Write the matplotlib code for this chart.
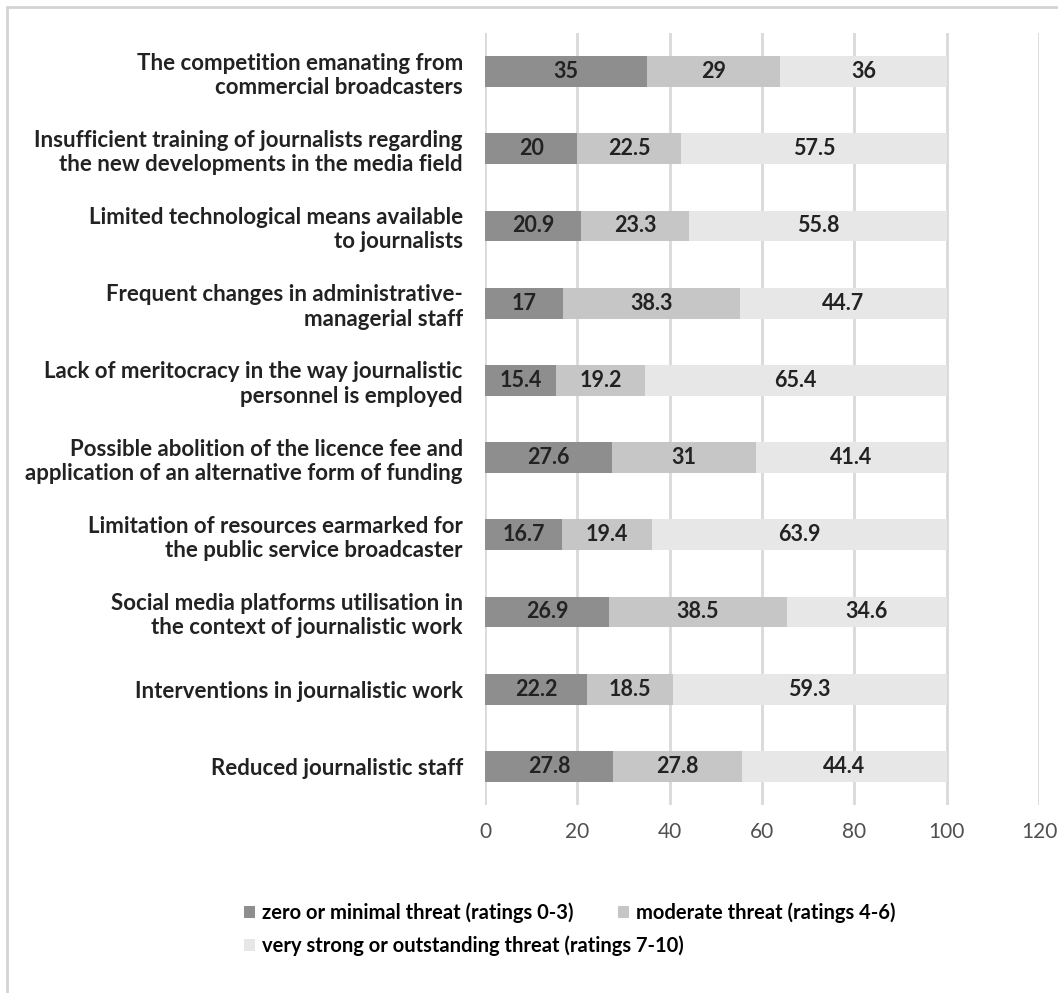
import matplotlib
matplotlib.use("Agg")
import matplotlib.pyplot as plt
from matplotlib.patches import Rectangle
import numpy as np

plt.rcParams["font.family"] = ["Lato", "DejaVu Sans"]

categories = [
    "The competition emanating from\ncommercial broadcasters",
    "Insufficient training of journalists regarding\nthe new developments in the media field",
    "Limited technological means available\nto journalists",
    "Frequent changes in administrative-\nmanagerial staff",
    "Lack of meritocracy in the way journalistic\npersonnel is employed",
    "Possible abolition of the licence fee and\napplication of an alternative form of funding",
    "Limitation of resources earmarked for\nthe public service broadcaster",
    "Social media platforms utilisation in\nthe context of journalistic work",
    "Interventions in journalistic work",
    "Reduced journalistic staff",
]
low = [35, 20, 20.9, 17, 15.4, 27.6, 16.7, 26.9, 22.2, 27.8]
moderate = [29, 22.5, 23.3, 38.3, 19.2, 31, 19.4, 38.5, 18.5, 27.8]
strong = [36, 57.5, 55.8, 44.7, 65.4, 41.4, 63.9, 34.6, 59.3, 44.4]
series_names = [
    "zero or minimal threat (ratings 0-3)",
    "moderate threat (ratings 4-6)",
    "very strong or outstanding threat (ratings 7-10)",
]
colors = ["#8e8e8e", "#c6c6c6", "#e7e7e7"]
xticks = [0, 20, 40, 60, 80, 100, 120]

fig = plt.figure(figsize=(10.58, 9.93), dpi=100)
fig.patch.set_facecolor("white")
# outer frame: only top and left edges fall inside the image
fig.patches.append(Rectangle((7 / 1058, -0.05), 1.1, 1 - 7 / 993 + 0.05, transform=fig.transFigure,
                             fill=False, edgecolor="#d4d4d4", linewidth=2))

ax = fig.add_axes([485 / 1058, 1 - 805 / 993, (1039 - 485) / 1058, (805 - 33) / 993])
y = np.arange(len(categories))
left = np.zeros(len(categories))
bars = []
for vals, col, name in zip([low, moderate, strong], colors, series_names):
    b = ax.barh(y, vals, left=left, height=0.4, color=col, label=name, zorder=3)
    for yi, l, v in zip(y, left, vals):
        ax.text(l + v / 2, yi, f"{v:g}", ha="center", va="center",
                fontsize=15.5, fontweight="bold", color="#222222", zorder=4)
    left = left + np.array(vals)
    bars.append(b)

ax.set_xlim(0, 120)
ax.set_ylim(len(categories) - 0.5, -0.5)
ax.set_xticks(xticks)
ax.set_yticks(y)
ax.set_yticklabels(categories, fontsize=16, fontweight="bold", color="#222222",
                   linespacing=1.2)
ax.tick_params(axis="y", length=0, pad=16)
ax.tick_params(axis="x", length=0, labelsize=15, labelcolor="#505050", pad=12)
ax.grid(axis="x", color="#d9d9d9", linewidth=2, zorder=0)
for s in ax.spines.values():
    s.set_visible(False)

# legend laid out in two rows: first two entries side by side, third below
leg_kw = dict(frameon=False, prop={"size": 14.5, "weight": "bold"}, handlelength=0.55,
              handleheight=0.55, handletextpad=0.35, borderpad=0, borderaxespad=0)
leg1 = fig.legend([bars[0], bars[1]], series_names[:2], ncol=2, loc="center left",
                  bbox_to_anchor=(244 / 1058, 1 - 913 / 993), columnspacing=2.2, **leg_kw)
leg2 = fig.legend([bars[2]], series_names[2:], loc="center left",
                  bbox_to_anchor=(244 / 1058, 1 - 946 / 993), **leg_kw)

fig.savefig("out.png", dpi=100, facecolor="white")
